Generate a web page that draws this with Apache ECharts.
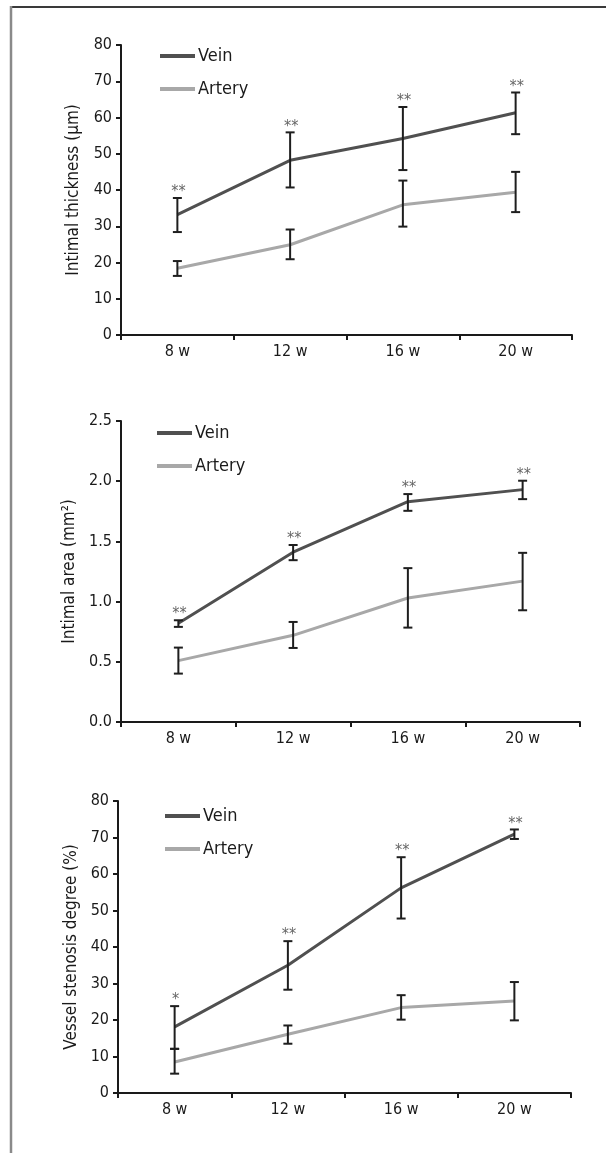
<!DOCTYPE html>
<html>
<head>
<meta charset="utf-8">
<script src="https://cdn.jsdelivr.net/npm/echarts@6/dist/echarts.min.js"></script>
<style>
html,body{margin:0;padding:0;background:#fff;}
#c{width:606px;height:1153px;}
</style>
</head>
<body>
<div id="c"></div>
<script>
// ---- data ----
const categories = ['8 w', '12 w', '16 w', '20 w'];

// Chart 1: Intimal thickness (μm)
const thickVein = [33.2, 48.2, 54.2, 61.3];
const thickVeinUpper = [37.8, 55.9, 62.9, 66.9];
const thickVeinLower = [28.4, 40.7, 45.5, 55.4];
const thickArtery = [18.4, 24.9, 35.9, 39.4];
const thickArteryUpper = [20.4, 29.1, 42.6, 45.0];
const thickArteryLower = [16.3, 20.9, 29.9, 33.9];
const thickStars = ['**', '**', '**', '**'];

// Chart 2: Intimal area (mm²)
const areaVein = [0.82, 1.41, 1.83, 1.93];
const areaVeinUpper = [0.845, 1.47, 1.893, 2.004];
const areaVeinLower = [0.79, 1.344, 1.754, 1.851];
const areaArtery = [0.51, 0.72, 1.03, 1.17];
const areaArteryUpper = [0.618, 0.831, 1.278, 1.405];
const areaArteryLower = [0.402, 0.615, 0.784, 0.928];
const areaStars = ['**', '**', '**', '**'];

// Chart 3: Vessel stenosis degree (%)
const stenVein = [18.1, 35.0, 56.2, 70.9];
const stenVeinUpper = [23.8, 41.6, 64.6, 72.2];
const stenVeinLower = [12.1, 28.3, 47.8, 69.6];
const stenArtery = [8.5, 16.1, 23.4, 25.2];
const stenArteryUpper = [12.1, 18.5, 26.8, 30.4];
const stenArteryLower = [5.3, 13.5, 20.1, 19.9];
const stenStars = ['*', '**', '**', '**'];

const yTitles = ['Intimal thickness (μm)', 'Intimal area (mm²)', 'Vessel stenosis degree (%)'];

// ---- styling ----
const FONT = '"Liberation Sans Narrow", "DejaVu Sans Condensed", "Roboto Condensed", sans-serif';
const VEIN_COLOR = '#505050';
const ART_COLOR = '#a8a8a8';
const AXIS_COLOR = '#1a1a1a';

const grids = [
  {left: 121, top: 45, right: 34, height: 290},
  {left: 121, top: 421, right: 26, height: 301},
  {left: 118, top: 801, right: 35, height: 292}
];
const yCfg = [
  {min: 0, max: 80, interval: 10, fmt: v => String(v), gap: 39},
  {min: 0, max: 2.5, interval: 0.5, fmt: v => v.toFixed(1), gap: 38},
  {min: 0, max: 80, interval: 10, fmt: v => String(v), gap: 35}
];
const legendPos = [
  {left: 155, top: 42},
  {left: 152, top: 419},
  {left: 160, top: 802}
];

function errData(upper, lower, stars) {
  return upper.map((u, i) => [i, u, lower[i], stars ? stars[i] : '']);
}

function errRender(params, api) {
  const x = api.value(0);
  const hi = api.coord([x, api.value(1)]);
  const lo = api.coord([x, api.value(2)]);
  const half = 4.5;
  const st = {stroke: '#1e1e1e', lineWidth: 2};
  const children = [
    {type: 'line', shape: {x1: hi[0], y1: hi[1], x2: lo[0], y2: lo[1]}, style: st},
    {type: 'line', shape: {x1: hi[0] - half, y1: hi[1], x2: hi[0] + half, y2: hi[1]}, style: st},
    {type: 'line', shape: {x1: lo[0] - half, y1: lo[1], x2: lo[0] + half, y2: lo[1]}, style: st}
  ];
  const star = api.value(3);
  if (star) {
    children.push({type: 'text', x: hi[0] + 1, y: hi[1] + 2,
      style: {text: star, textAlign: 'center', textVerticalAlign: 'bottom',
        fontSize: 16, fontFamily: FONT, fill: '#666'}});
  }
  return {type: 'group', children};
}

const sets = [
  [thickVein, thickVeinUpper, thickVeinLower, thickArtery, thickArteryUpper, thickArteryLower, thickStars],
  [areaVein, areaVeinUpper, areaVeinLower, areaArtery, areaArteryUpper, areaArteryLower, areaStars],
  [stenVein, stenVeinUpper, stenVeinLower, stenArtery, stenArteryUpper, stenArteryLower, stenStars]
];

const option = {
  backgroundColor: '#fff',
  animation: false,
  grid: grids,
  legend: legendPos.map((p, i) => ({
    left: p.left, top: p.top, orient: 'vertical',
    itemWidth: 35, itemHeight: 4, itemGap: 15,
    icon: 'rect',
    data: [{name: 'Vein', itemStyle: {color: VEIN_COLOR}}, {name: 'Artery', itemStyle: {color: ART_COLOR}}],
    textStyle: {fontFamily: FONT, fontSize: 18, color: '#1a1a1a', padding: [0, 0, 0, -2]},
    selectedMode: false
  })),
  xAxis: grids.map((g, i) => ({
    type: 'category', gridIndex: i, data: categories, boundaryGap: true,
    axisLine: {lineStyle: {color: AXIS_COLOR, width: 2}},
    axisTick: {show: true, length: 5, lineStyle: {color: AXIS_COLOR, width: 2}},
    axisLabel: {fontFamily: FONT, fontSize: 16, color: '#1a1a1a', margin: 9},
    splitLine: {show: false}
  })),
  yAxis: yCfg.map((c, i) => ({
    type: 'value', gridIndex: i, min: c.min, max: c.max, interval: c.interval,
    name: yTitles[i], nameLocation: 'middle', nameGap: c.gap,
    nameTextStyle: {fontFamily: FONT, fontSize: 17, color: '#1a1a1a'},
    axisLine: {show: true, lineStyle: {color: AXIS_COLOR, width: 2}},
    axisTick: {show: true, length: 5, lineStyle: {color: AXIS_COLOR, width: 2}},
    axisLabel: {fontFamily: FONT, fontSize: 16, color: '#1a1a1a', margin: 9, formatter: c.fmt},
    splitLine: {show: false}
  })),
  series: [],
  graphic: [
    {type: 'line', shape: {x1: 11, y1: 7, x2: 606, y2: 7}, style: {stroke: '#3a3a3a', lineWidth: 2}},
    {type: 'line', shape: {x1: 11, y1: 6, x2: 11, y2: 1153}, style: {stroke: '#8a8a8a', lineWidth: 2.5}}
  ]
};

sets.forEach((s, i) => {
  const [v, vu, vl, a, au, al, stars] = s;
  option.series.push(
    {type: 'line', name: 'Artery', xAxisIndex: i, yAxisIndex: i, data: a,
      symbol: 'none', lineStyle: {color: ART_COLOR, width: 3}, itemStyle: {color: ART_COLOR}, z: 2},
    {type: 'line', name: 'Vein', xAxisIndex: i, yAxisIndex: i, data: v,
      symbol: 'none', lineStyle: {color: VEIN_COLOR, width: 3}, itemStyle: {color: VEIN_COLOR}, z: 3},
    {type: 'custom', name: 'arterr' + i, xAxisIndex: i, yAxisIndex: i,
      data: errData(au, al, null), renderItem: errRender, encode: {x: 0, y: [1, 2]}, z: 4},
    {type: 'custom', name: 'veinerr' + i, xAxisIndex: i, yAxisIndex: i,
      data: errData(vu, vl, stars), renderItem: errRender, encode: {x: 0, y: [1, 2]}, z: 5}
  );
});

const chart = echarts.init(document.getElementById('c'), null, {renderer: 'canvas'});
chart.setOption(option);
</script>
</body>
</html>
